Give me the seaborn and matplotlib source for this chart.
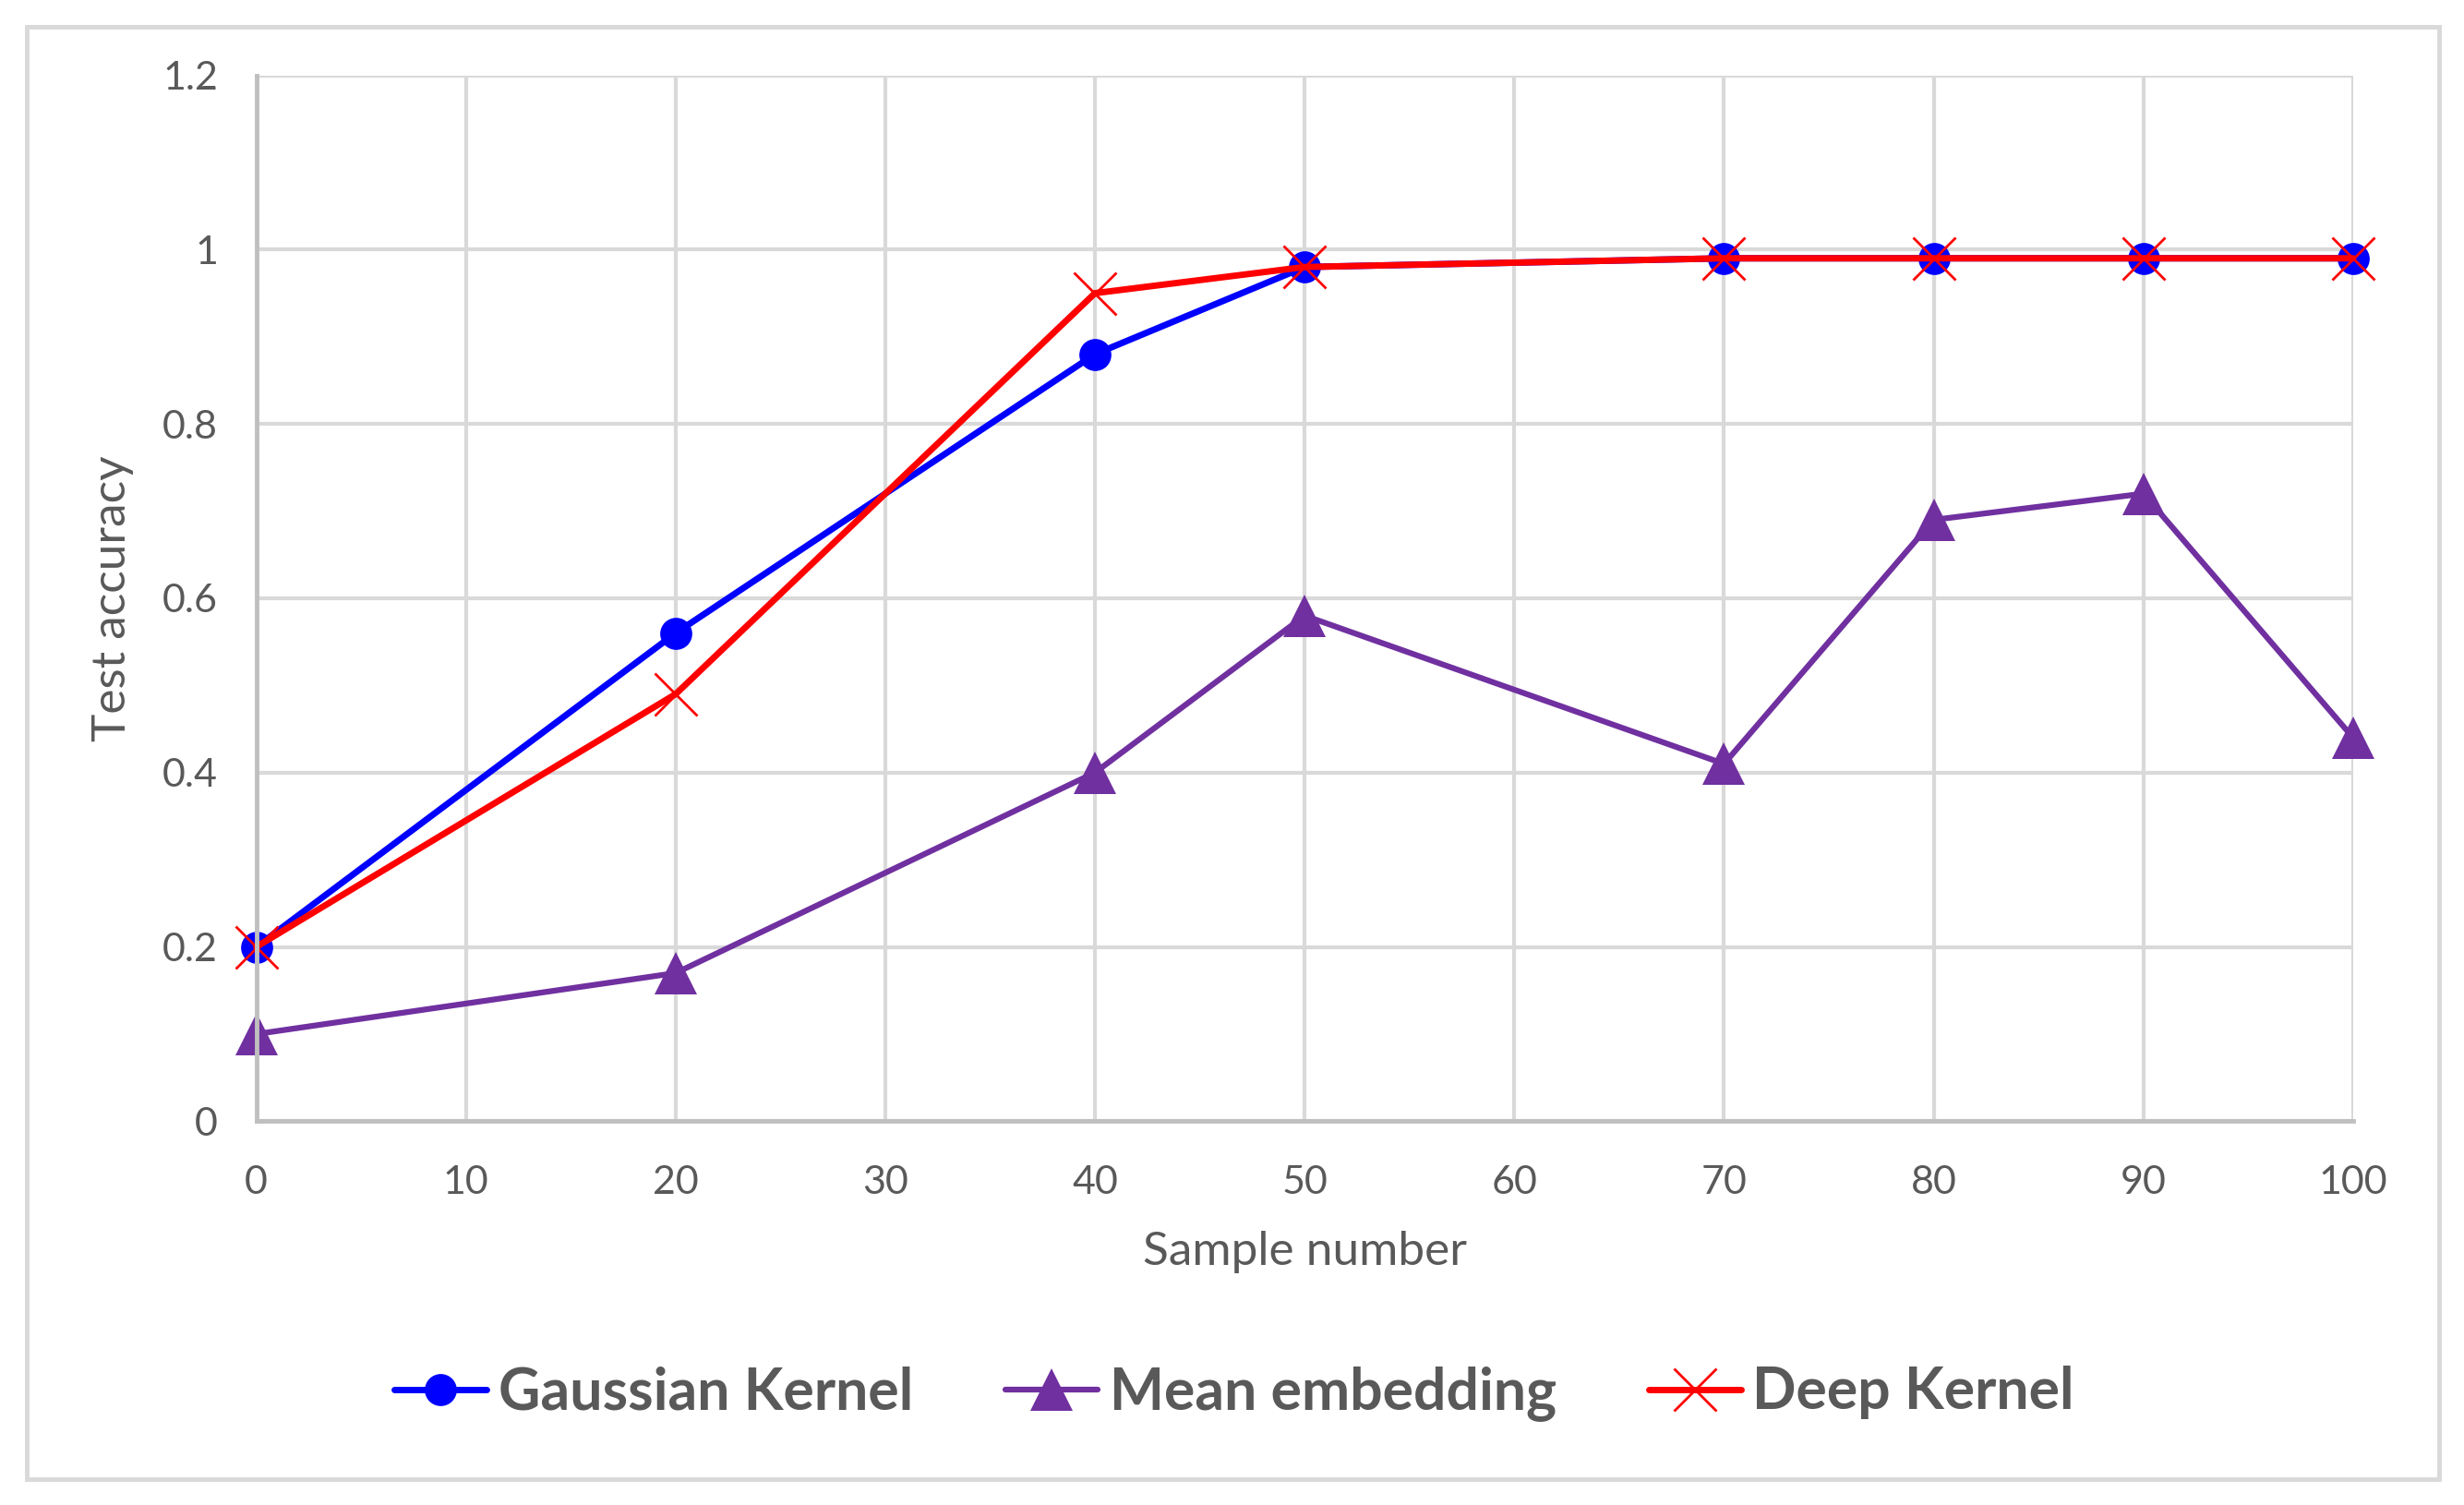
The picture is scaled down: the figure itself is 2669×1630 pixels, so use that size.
import matplotlib
matplotlib.use("Agg")
import matplotlib.pyplot as plt
import seaborn as sns
import pandas as pd
from matplotlib.patches import Rectangle

# ----------- DONNÉES ------------
sample_number = [0, 20, 40, 50, 70, 80, 90, 100]
gaussian_kernel = [0.20, 0.56, 0.88, 0.98, 0.99, 0.99, 0.99, 0.99]
mean_embedding = [0.10, 0.17, 0.40, 0.58, 0.41, 0.69, 0.72, 0.44]
deep_kernel = [0.20, 0.49, 0.95, 0.98, 0.99, 0.99, 0.99, 0.99]

x_ticks = [0, 10, 20, 30, 40, 50, 60, 70, 80, 90, 100]
y_ticks = [0, 0.2, 0.4, 0.6, 0.8, 1.0, 1.2]
y_tick_labels = ["0", "0.2", "0.4", "0.6", "0.8", "1", "1.2"]

df = pd.DataFrame({
    "sample": sample_number,
    "Gaussian Kernel": gaussian_kernel,
    "Mean embedding": mean_embedding,
    "Deep Kernel": deep_kernel,
})

# ----------- STYLE ------------
sns.set_style("white")
plt.rcParams["font.family"] = ["Lato", "DejaVu Sans"]
text_grey = "#595959"
grid_grey = "#D9D9D9"

fig = plt.figure(figsize=(26.69, 16.30), dpi=100)
ax = fig.add_axes([0.104, 0.255, 0.851, 0.695])

# ----------- COURBES ------------
# clip_on=False : les marqueurs aux bords (0 et 100) restent entiers
sns.lineplot(data=df, x="sample", y="Gaussian Kernel", ax=ax, color="#0000FF",
             linewidth=5, marker="o", markersize=25, markeredgewidth=0,
             clip_on=False, label="Gaussian Kernel")
sns.lineplot(data=df, x="sample", y="Mean embedding", ax=ax, color="#7030A0",
             linewidth=4.5, marker="^", markersize=33, markeredgewidth=0,
             clip_on=False, label="Mean embedding")
sns.lineplot(data=df, x="sample", y="Deep Kernel", ax=ax, color="#FF0000",
             linewidth=5, marker="x", markersize=33, markeredgewidth=2,
             markeredgecolor="#FF0000", clip_on=False, label="Deep Kernel")

# ----------- AXES ------------
ax.set_xlim(0, 100)
ax.set_ylim(0, 1.2)
ax.set_xticks(x_ticks)
ax.set_yticks(y_ticks)
ax.set_yticklabels(y_tick_labels)
ax.grid(True, color=grid_grey, linewidth=3)
ax.set_axisbelow(True)
for side in ["top", "right"]:
    ax.spines[side].set_visible(False)
for side in ["left", "bottom"]:
    ax.spines[side].set_color("#BFBFBF")
    ax.spines[side].set_linewidth(3.5)
ax.tick_params(axis="both", length=0, labelsize=31, labelcolor=text_grey)
ax.tick_params(axis="x", pad=34)
ax.tick_params(axis="y", pad=30)
ax.set_xlabel("Sample number", fontsize=37, color=text_grey, labelpad=24)
ax.set_ylabel("Test accuracy", fontsize=37, color=text_grey, labelpad=22)

# ----------- LÉGENDE ------------
leg = ax.legend(loc="center", bbox_to_anchor=(0.501, 0.074),
                bbox_transform=fig.transFigure, ncol=3, frameon=False,
                prop={"weight": "bold", "size": 45}, handlelength=1.6,
                handletextpad=0.2, columnspacing=1.6)
for t in leg.get_texts():
    t.set_color(text_grey)

# Cadre extérieur gris
fig.patches.append(Rectangle((0.0109, 0.0172), 0.979, 0.965, transform=fig.transFigure,
                             fill=False, edgecolor=grid_grey, linewidth=3.5))

fig.savefig("out.png", dpi=100, facecolor="white")
